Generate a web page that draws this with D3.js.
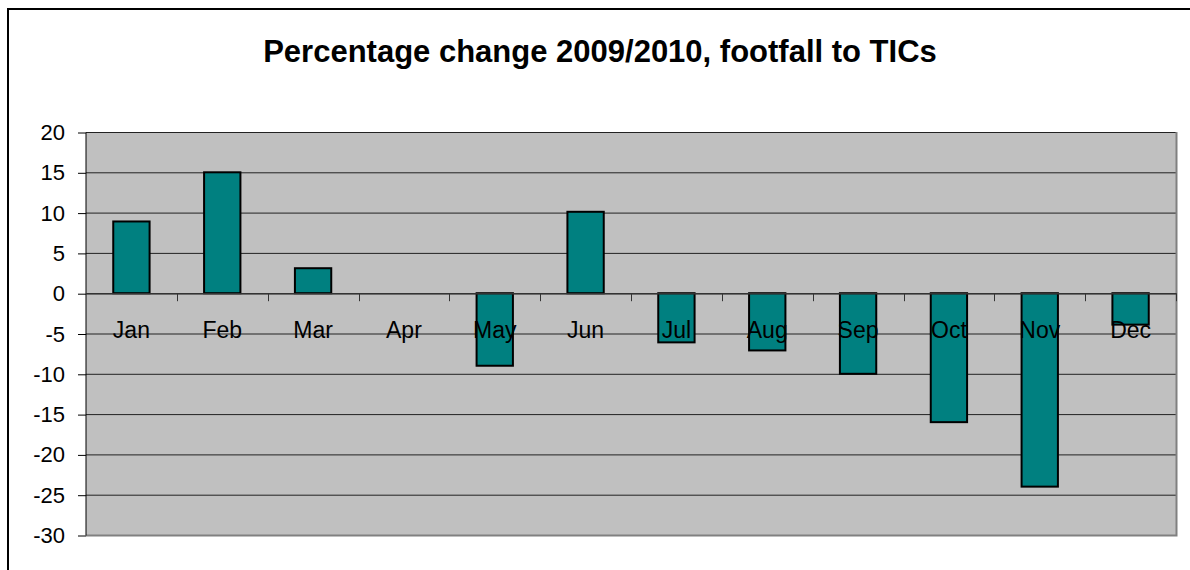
<!DOCTYPE html>
<html>
<head>
<meta charset="utf-8">
<script src="https://cdn.jsdelivr.net/npm/d3@7"></script>
<style>
  html, body { margin: 0; padding: 0; background: #fff; }
  svg { display: block; font-family: Arial, "Liberation Sans", sans-serif; }
</style>
</head>
<body>
<svg id="chart" width="1190" height="570"></svg>
<script>
// Monthly percentage change in footfall to TICs, 2009 vs 2010
const months = ["Jan", "Feb", "Mar", "Apr", "May", "Jun", "Jul", "Aug", "Sep", "Oct", "Nov", "Dec"];
const changePct = [8.9, 15, 3.1, 0, -9, 10.1, -6.1, -7.1, -10, -16, -24, -3.9];
const yTicks = [20, 15, 10, 5, 0, -5, -10, -15, -20, -25, -30];
const title = "Percentage change 2009/2010, footfall to TICs";

const svg = d3.select("#chart");
const plot = { left: 86, right: 1176, top: 132, bottom: 535 };

// Outer chart frame
svg.append("rect")
  .attr("x", 8).attr("y", 9)
  .attr("width", 1200).attr("height", 600)
  .attr("fill", "#fff").attr("stroke", "#000").attr("stroke-width", 2);

svg.append("text")
  .attr("x", 600).attr("y", 62)
  .attr("text-anchor", "middle")
  .attr("font-weight", "bold")
  .attr("font-size", 31)
  .attr("fill", "#000")
  .text(title);

const xb = d3.scaleBand().domain(months).range([plot.left, plot.right]);
const y = d3.scaleLinear().domain([-30, 20]).range([plot.bottom, plot.top]);

// Plot background
svg.append("rect")
  .attr("x", plot.left).attr("y", plot.top)
  .attr("width", plot.right - plot.left).attr("height", plot.bottom - plot.top)
  .attr("fill", "#c0c0c0");

// Horizontal gridlines
svg.append("g").selectAll("line").data(yTicks.filter(d => d !== -30)).join("line")
  .attr("x1", plot.left).attr("x2", plot.right)
  .attr("y1", d => y(d) + 0.5).attr("y2", d => y(d) + 0.5)
  .attr("stroke", "#222").attr("stroke-width", 1);

// Plot border (right and bottom)
svg.append("path")
  .attr("d", `M${plot.right + 0.5},${plot.top}V${plot.bottom + 0.5}H${plot.left}`)
  .attr("fill", "none").attr("stroke", "#808080").attr("stroke-width", 2);

// Bars
const barW = xb.bandwidth() / 2.5;
svg.append("g").selectAll("rect").data(months).join("rect")
  .attr("x", (m) => xb(m) + (xb.bandwidth() - barW) / 2)
  .attr("y", (m, i) => y(Math.max(0, changePct[i])))
  .attr("width", barW)
  .attr("height", (m, i) => Math.abs(y(changePct[i]) - y(0)))
  .attr("fill", "#008080")
  .attr("stroke", "#000").attr("stroke-width", 2);

// Y axis
const yAxis = d3.axisLeft(y).tickValues(yTicks).tickSize(8).tickPadding(13).tickFormat(d => String(d));
const gy = svg.append("g").attr("transform", `translate(${plot.left},0.5)`).call(yAxis);
gy.select(".domain").attr("stroke", "#000").attr("d", `M0,${plot.top}V${plot.bottom}`);
gy.selectAll(".tick line").attr("stroke", "#000");
gy.selectAll(".tick text")
  .attr("font-size", 22).attr("fill", "#000")
  .attr("font-family", "Arial, 'Liberation Sans', sans-serif");

// X axis at zero
svg.append("line")
  .attr("x1", plot.left).attr("x2", plot.right)
  .attr("y1", y(0) + 0.5).attr("y2", y(0) + 0.5)
  .attr("stroke", "#333").attr("stroke-width", 1.5);
const bounds = months.map(m => xb(m)).concat([plot.right]);
svg.append("g").selectAll("line").data(bounds.slice(1)).join("line")
  .attr("x1", d => Math.round(d) + 0.5).attr("x2", d => Math.round(d) + 0.5)
  .attr("y1", y(0)).attr("y2", y(0) + 8)
  .attr("stroke", "#333").attr("stroke-width", 1);

svg.append("g").selectAll("text").data(months).join("text")
  .attr("x", m => xb(m) + xb.bandwidth() / 2)
  .attr("y", y(0) + 45)
  .attr("text-anchor", "middle")
  .attr("font-size", 23)
  .attr("fill", "#000")
  .text(m => m);
</script>
</body>
</html>
